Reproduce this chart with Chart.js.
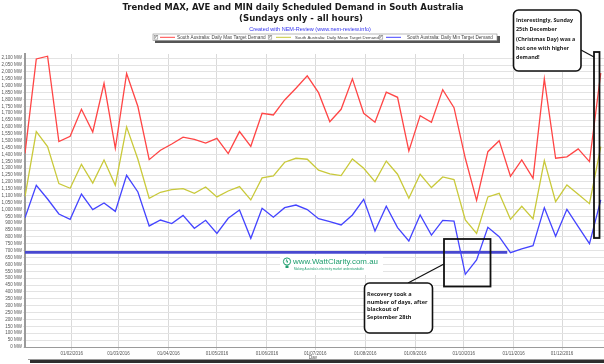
<!DOCTYPE html>
<html lang="en">
<head>
<meta charset="utf-8">
<title>Trended MAX, AVE and MIN daily Scheduled Demand in South Australia</title>
<style>
  html, body { margin: 0; padding: 0; background: #ffffff; }
  #wrap { width: 604px; height: 364px; }
</style>
<script src="https://cdn.jsdelivr.net/npm/chart.js@4.4.1/dist/chart.umd.min.js"></script>
</head>
<body>
<div id="wrap"><canvas id="graph" width="604" height="364"></canvas></div>
<script>
  // every Sunday of 2016
  const sundays = [
    '2016-01-03','2016-01-10','2016-01-17','2016-01-24','2016-01-31',
    '2016-02-07','2016-02-14','2016-02-21','2016-02-28',
    '2016-03-06','2016-03-13','2016-03-20','2016-03-27',
    '2016-04-03','2016-04-10','2016-04-17','2016-04-24',
    '2016-05-01','2016-05-08','2016-05-15','2016-05-22','2016-05-29',
    '2016-06-05','2016-06-12','2016-06-19','2016-06-26',
    '2016-07-03','2016-07-10','2016-07-17','2016-07-24','2016-07-31',
    '2016-08-07','2016-08-14','2016-08-21','2016-08-28',
    '2016-09-04','2016-09-11','2016-09-18','2016-09-25',
    '2016-10-02','2016-10-09','2016-10-16','2016-10-23','2016-10-30',
    '2016-11-06','2016-11-13','2016-11-20','2016-11-27',
    '2016-12-04','2016-12-11','2016-12-18','2016-12-25'
  ];
  const maxDemand = [
    1408, 2094, 2114, 1493, 1532,
    1728, 1563, 1917, 1445,
    1988, 1748, 1362, 1430,
    1476, 1525, 1510, 1483,
    1517, 1406, 1566, 1459, 1699,
    1687, 1796, 1881, 1971,
    1849, 1638, 1728, 1949, 1699,
    1634, 1852, 1815, 1425,
    1682, 1634, 1871, 1740,
    1372, 1066, 1420, 1500, 1241,
    1360, 1226, 1949, 1372,
    1382, 1440, 1348, 1992
  ];
  const meanDemand = [
    1093, 1566, 1457, 1188, 1154,
    1328, 1192, 1360, 1176,
    1600, 1365, 1081, 1125,
    1144, 1151, 1117, 1163,
    1091, 1134, 1166, 1069, 1229,
    1243, 1343, 1372, 1365,
    1285, 1258, 1246, 1367, 1299,
    1202, 1352, 1256, 1081,
    1256, 1159, 1236, 1217,
    923, 826, 1091, 1117, 928,
    1023, 931, 1355, 1057,
    1178, 1110, 1042, 1457
  ];
  const minDemand = [
    940, 1176, 1076, 967, 928,
    1112, 999, 1047, 986,
    1248, 1127, 880, 923,
    897, 957, 863, 921,
    826, 936, 996, 790, 1008,
    943, 1013, 1032, 999,
    933, 911, 887, 960, 1074,
    843, 1023, 868, 771,
    960, 814, 921, 916,
    528, 633, 870, 802, 686,
    713, 737, 1013, 805,
    1001, 875, 751, 1069
  ];
  // hand drawn reference line on the original chart
  const refLineDates = ['2016-01-03', '2016-10-28'];
  const refLineValues = [688, 688];

  const monthTicks = ['2016-02-01','2016-03-01','2016-04-01','2016-05-01','2016-06-01','2016-07-01',
                      '2016-08-01','2016-09-01','2016-10-01','2016-11-01','2016-12-01'];
  const yTicks = [];
  for (let v = 0; v <= 2100; v += 50) yTicks.push(v);

  function dayOf(s) {
    const p = s.split('-').map(Number);
    return (Date.UTC(p[0], p[1] - 1, p[2]) - Date.UTC(2016, 0, 1)) / 86400000;
  }
  function fmtDay(v) {
    const d = new Date(Date.UTC(2016, 0, 1) + v * 86400000);
    const dd = String(d.getUTCDate()).padStart(2, '0');
    const mm = String(d.getUTCMonth() + 1).padStart(2, '0');
    return dd + '/' + mm + '/' + d.getUTCFullYear();
  }
  function series(dates, values) {
    return dates.map((s, i) => ({ x: dayOf(s), y: values[i] }));
  }

  // draws text so that it spans the given width
  function fitText(ctx, text, x, y, width, weight, family, align) {
    ctx.font = weight + ' 10px ' + family;
    const size = 10 * width / ctx.measureText(text).width;
    ctx.font = weight + ' ' + size.toFixed(2) + 'px ' + family;
    ctx.textAlign = align || 'center';
    ctx.textBaseline = 'middle';
    ctx.fillText(text, x, y);
  }
  function roundBox(ctx, x, y, w, h, r) {
    ctx.beginPath();
    ctx.roundRect(x, y, w, h, r);
    ctx.fillStyle = '#ffffff';
    ctx.fill();
    ctx.lineWidth = 1.6;
    ctx.strokeStyle = '#111111';
    ctx.stroke();
  }

  const decorations = {
    id: 'decorations',
    afterDraw(chart) {
      const ctx = chart.ctx;
      ctx.save();

      // titles
      ctx.fillStyle = '#1a1a1a';
      fitText(ctx, 'Trended MAX, AVE and MIN daily Scheduled Demand in South Australia', 293, 7.5, 341, 'bold', '"DejaVu Sans"');
      fitText(ctx, '(Sundays only - all hours)', 301, 19, 124, 'bold', '"DejaVu Sans"');
      ctx.fillStyle = '#3333ee';
      fitText(ctx, 'Created with NEM-Review (www.nem-review.info)', 310, 29, 122, 'normal', '"Liberation Sans"');

      // legend
      ctx.fillStyle = '#555555';
      ctx.fillRect(155, 36, 345, 7);
      ctx.fillStyle = '#ffffff';
      ctx.fillRect(153, 34, 344, 6.5);
      ctx.strokeStyle = '#888888';
      ctx.lineWidth = 0.6;
      ctx.strokeRect(153, 34, 344, 6.5);
      const items = [
        { cx: 156, lx: 160, tx: 177, tw: 89 },
        { cx: 270, lx: 276, tx: 295, tw: 84 },
        { cx: 381, lx: 386, tx: 407, tw: 86 }
      ];
      items.forEach((it, i) => {
        const ds = chart.data.datasets[i];
        ctx.strokeStyle = '#777777';
        ctx.lineWidth = 0.5;
        ctx.strokeRect(it.cx - 1.8, 35.5, 3.6, 3.6);
        ctx.fillStyle = '#222222';
        ctx.font = '4px "DejaVu Sans"';
        ctx.textAlign = 'center';
        ctx.textBaseline = 'middle';
        ctx.fillText('\u2713', it.cx, 37.4);
        ctx.strokeStyle = ds.borderColor;
        ctx.lineWidth = 1;
        ctx.beginPath();
        ctx.moveTo(it.lx, 37.3);
        ctx.lineTo(it.lx + 15, 37.3);
        ctx.stroke();
        ctx.fillStyle = '#444444';
        fitText(ctx, ds.label, it.tx, 37.4, it.tw, 'normal', '"Liberation Sans"', 'left');
      });

      // WattClarity mark
      ctx.fillStyle = '#ffffff';
      ctx.fillRect(280, 255, 103, 20);
      ctx.strokeStyle = '#1e9e6e';
      ctx.lineWidth = 1;
      ctx.beginPath();
      ctx.arc(287, 261.5, 3.6, 0, Math.PI * 2);
      ctx.stroke();
      ctx.fillStyle = '#1e9e6e';
      ctx.fillRect(285.5, 265.5, 3, 2.5);
      ctx.font = 'bold 5px "DejaVu Sans"';
      ctx.textAlign = 'center';
      ctx.textBaseline = 'middle';
      ctx.fillText('\u03DF', 287, 261.5);
      fitText(ctx, 'www.WattClarity.com.au', 293, 262, 85, 'normal', '"Liberation Sans"', 'left');
      fitText(ctx, "Making Australia's electricity market understandable", 294, 269, 70, 'normal', '"Liberation Sans"', 'left');

      // blackout annotation
      ctx.strokeStyle = '#111111';
      ctx.lineWidth = 1.8;
      ctx.strokeRect(444, 239, 46.5, 47.5);
      ctx.lineWidth = 1.2;
      ctx.beginPath();
      ctx.moveTo(408, 283);
      ctx.lineTo(444, 264);
      ctx.stroke();
      roundBox(ctx, 364.5, 283, 68, 50, 5);
      ctx.fillStyle = '#1a1a1a';
      ctx.font = 'bold 5.6px "Open Sans"';
      ctx.textAlign = 'left';
      ctx.textBaseline = 'middle';
      ['Recovery took a', 'number of days, after', 'blackout of', 'September 28th'].forEach((t, i) => {
        ctx.fillText(t, 367, 294.3 + i * 7.8);
      });

      // Christmas Day annotation
      ctx.strokeStyle = '#111111';
      ctx.lineWidth = 1.8;
      ctx.strokeRect(594, 52, 5.5, 186);
      ctx.lineWidth = 1.2;
      ctx.beginPath();
      ctx.moveTo(581, 50);
      ctx.lineTo(594, 57);
      ctx.stroke();
      roundBox(ctx, 513.5, 10, 67.5, 61, 5);
      ctx.fillStyle = '#1a1a1a';
      ctx.font = 'bold 5.4px "Open Sans"';
      ['Interestingly, Sunday', '25th December', '(Christmas Day) was a', 'hot one with higher', 'demand!'].forEach((t, i) => {
        ctx.fillText(t, 516, 20.5 + i * 9.3);
      });

      // axis title and frame shadow
      ctx.fillStyle = '#444444';
      ctx.font = '4.5px "Liberation Sans"';
      ctx.textAlign = 'center';
      ctx.fillText('Day', 313, 357.5);
      ctx.fillStyle = '#9a9a9a';
      ctx.fillRect(28, 359, 576, 1);
      ctx.fillStyle = '#2e2e2e';
      ctx.fillRect(30, 360, 574, 3);
      ctx.restore();
    }
  };

  const ctx = document.getElementById('graph').getContext('2d');
  window.myChart = new Chart(ctx, {
    type: 'line',
    data: {
      datasets: [
        { label: 'South Australia: Daily Max Target Demand', data: series(sundays, maxDemand),
          borderColor: '#ff4545', borderWidth: 1.3, pointRadius: 0, tension: 0, fill: false },
        { label: 'South Australia: Daily Mean Target Demand', data: series(sundays, meanDemand),
          borderColor: '#c9c93a', borderWidth: 1.3, pointRadius: 0, tension: 0, fill: false },
        { label: 'South Australia: Daily Min Target Demand', data: series(sundays, minDemand),
          borderColor: '#4444ff', borderWidth: 1.3, pointRadius: 0, tension: 0, fill: false },
        { label: 'line', data: series(refLineDates, refLineValues),
          borderColor: '#4848d0', borderWidth: 2.6, pointRadius: 0, tension: 0, fill: false }
      ]
    },
    options: {
      responsive: false,
      animation: false,
      devicePixelRatio: 1,
      layout: { padding: { top: 54, left: 0, right: 0, bottom: 0 } },
      plugins: {
        legend: { display: false },
        title: { display: false },
        tooltip: { enabled: false }
      },
      scales: {
        x: {
          type: 'linear',
          min: 2,
          max: 361,
          afterBuildTicks: function(s) { s.ticks = monthTicks.map(t => ({ value: dayOf(t) })); },
          afterFit: function(s) { s.height = 17; },
          ticks: {
            callback: function(v) { return fmtDay(v); },
            font: { size: 4.5, family: 'Liberation Sans' },
            color: '#555555',
            padding: 1,
            maxRotation: 0,
            autoSkip: false
          },
          grid: { color: '#dadada', tickLength: 3 },
          border: { color: '#9a9a9a', width: 1 }
        },
        y: {
          min: 0,
          max: 2130,
          afterBuildTicks: function(s) { s.ticks = yTicks.map(v => ({ value: v })); },
          afterFit: function(s) { s.width = 25; },
          ticks: {
            callback: function(v) { return v.toLocaleString('en-US') + ' MW'; },
            font: { size: 4.5, family: 'Liberation Sans' },
            color: '#555555',
            padding: 1,
            autoSkip: false
          },
          grid: { color: '#e3e3e3', tickLength: 2 },
          border: { color: '#9a9a9a', width: 2 }
        }
      }
    },
    plugins: [decorations]
  });
</script>
</body>
</html>
